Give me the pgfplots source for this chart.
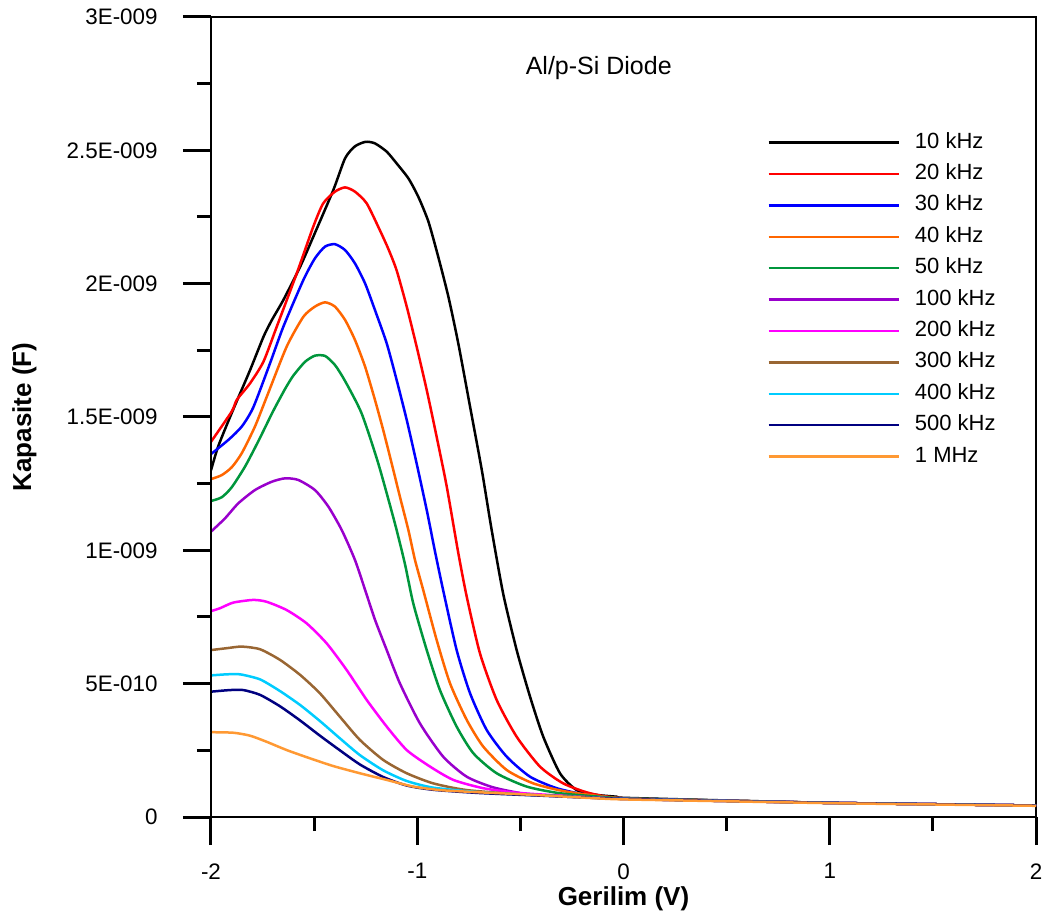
\documentclass[border=0pt]{standalone}
\usepackage{pgfplots}
\pgfplotsset{compat=1.18}
\usepackage{fontspec}
\setmainfont{Liberation Sans}
\definecolor{cBlack}{RGB}{0,0,0}
\definecolor{cRed}{RGB}{255,0,0}
\definecolor{cBlue}{RGB}{0,0,255}
\definecolor{cOrange}{RGB}{255,102,0}
\definecolor{cGreen}{RGB}{0,150,60}
\definecolor{cPurple}{RGB}{153,0,204}
\definecolor{cMagenta}{RGB}{255,0,255}
\definecolor{cBrown}{RGB}{153,102,51}
\definecolor{cCyan}{RGB}{0,204,255}
\definecolor{cNavy}{RGB}{0,0,128}
\definecolor{cLight}{RGB}{255,153,51}
\begin{document}
\begin{tikzpicture}
\path[use as bounding box] (-105.5pt,-49pt) rectangle (416pt,408.5pt);
\begin{axis}[
  at={(0,0)}, anchor=south west,
  scale only axis, width=412.5pt, height=400pt,
  xmin=-2, xmax=2, ymin=0, ymax=3,
  xtick={-2,-1,0,1,2}, xticklabels={-2,-1,0,1,2},
  minor xtick={-1.5,-0.5,0.5,1.5},
  ytick={0,0.5,1,1.5,2,2.5,3},
  yticklabels={0,5E-010,1E-009,1.5E-009,2E-009,2.5E-009,3E-009},
  minor ytick={0.25,0.75,1.25,1.75,2.25,2.75},
  tick pos=left, tick align=outside,
  major tick length=14pt, minor tick length=7pt,
  every tick/.style={black, line width=1.5pt},
  axis line style={line width=1pt},
  ticklabel style={font=\fontsize{11.2}{13}\selectfont},
  yticklabel style={inner sep=0pt, xshift=-12.5pt},
  xticklabel style={inner sep=0pt, yshift=-9pt},
  xlabel={\textbf{Gerilim (V)}}, ylabel={\textbf{Kapasite (F)}},
  label style={font=\fontsize{13}{15}\selectfont},
  xlabel style={at={(axis description cs:0.5,-0.11)}, anchor=base},
  ylabel style={at={(axis description cs:-0.218,0.5)}, anchor=base},
  legend cell align=left,
  legend image code/.code={\draw[#1] (0pt,0pt) -- (65pt,0pt);},
  legend style={draw=none, fill=none, at={(axis cs:0.696,2.57)}, anchor=north west,
    inner sep=0pt, row sep=5.2pt, font=\fontsize{11}{13}\selectfont,
    nodes={inner sep=0pt, text height=8pt, text depth=2.5pt},
    /tikz/column sep=7.5pt},
  every axis plot/.append style={line width=1.25pt, smooth, tension=0.4},
]
\addplot[cBlack] coordinates {(-2.0,1.30) (-1.965,1.39) (-1.90,1.514) (-1.811,1.675) (-1.746,1.800) (-1.706,1.862) (-1.649,1.939) (-1.568,2.063) (-1.504,2.176) (-1.407,2.351) (-1.350,2.47) (-1.302,2.515) (-1.250,2.532) (-1.205,2.526) (-1.148,2.495) (-1.100,2.451) (-1.043,2.395) (-0.995,2.326) (-0.946,2.233) (-0.898,2.100) (-0.849,1.951) (-0.801,1.776) (-0.744,1.539) (-0.687,1.301) (-0.640,1.08) (-0.583,0.836) (-0.518,0.626) (-0.453,0.451) (-0.389,0.301) (-0.308,0.164) (-0.227,0.101) (-0.130,0.083) (-0.033,0.076) (0.0,0.072) (0.5,0.062) (1.0,0.053) (1.5,0.048) (2.0,0.043)};
\addlegendentry{10 kHz}
\addplot[cRed] coordinates {(-2.0,1.407) (-1.900,1.520) (-1.875,1.564) (-1.811,1.626) (-1.746,1.707) (-1.681,1.839) (-1.584,2.039) (-1.504,2.214) (-1.456,2.301) (-1.399,2.345) (-1.350,2.361) (-1.302,2.345) (-1.245,2.301) (-1.181,2.20) (-1.140,2.13) (-1.100,2.05) (-1.051,1.914) (-1.003,1.764) (-0.954,1.601) (-0.906,1.426) (-0.857,1.239) (-0.801,0.99) (-0.760,0.826) (-0.696,0.614) (-0.615,0.439) (-0.518,0.301) (-0.405,0.189) (-0.292,0.126) (-0.162,0.089) (0.0,0.070) (0.5,0.061) (1.0,0.053) (1.5,0.048) (2.0,0.043)};
\addlegendentry{20 kHz}
\addplot[cBlue] coordinates {(-2.0,1.361) (-1.916,1.414) (-1.851,1.464) (-1.795,1.536) (-1.714,1.701) (-1.649,1.839) (-1.552,2.014) (-1.496,2.095) (-1.447,2.139) (-1.399,2.148) (-1.350,2.126) (-1.302,2.076) (-1.253,2.001) (-1.205,1.901) (-1.148,1.776) (-1.100,1.639) (-1.051,1.489) (-1.003,1.326) (-0.954,1.151) (-0.914,0.996) (-0.874,0.849) (-0.809,0.626) (-0.744,0.464) (-0.663,0.326) (-0.566,0.226) (-0.453,0.151) (-0.324,0.108) (-0.178,0.083) (0.0,0.070) (0.5,0.061) (1.0,0.053) (1.5,0.048) (2.0,0.043)};
\addlegendentry{30 kHz}
\addplot[cOrange] coordinates {(-2.0,1.267) (-1.948,1.282) (-1.900,1.311) (-1.851,1.364) (-1.787,1.464) (-1.730,1.575) (-1.633,1.764) (-1.552,1.876) (-1.496,1.914) (-1.447,1.930) (-1.399,1.914) (-1.350,1.864) (-1.302,1.789) (-1.253,1.689) (-1.205,1.564) (-1.165,1.451) (-1.124,1.326) (-1.084,1.201) (-1.043,1.076) (-1.011,0.964) (-0.971,0.851) (-0.906,0.664) (-0.841,0.501) (-0.760,0.364) (-0.680,0.264) (-0.566,0.176) (-0.437,0.126) (-0.275,0.095) (0.0,0.070) (0.5,0.061) (1.0,0.053) (1.5,0.048) (2.0,0.043)};
\addlegendentry{40 kHz}
\addplot[cGreen] coordinates {(-2.0,1.185) (-1.948,1.199) (-1.900,1.236) (-1.835,1.314) (-1.770,1.41) (-1.700,1.52) (-1.641,1.605) (-1.601,1.655) (-1.544,1.707) (-1.496,1.730) (-1.447,1.729) (-1.399,1.695) (-1.350,1.635) (-1.270,1.514) (-1.189,1.326) (-1.108,1.10) (-1.060,0.95) (-1.019,0.80) (-0.954,0.626) (-0.890,0.476) (-0.809,0.339) (-0.728,0.239) (-0.615,0.164) (-0.469,0.114) (-0.308,0.089) (-0.114,0.076) (0.0,0.070) (0.5,0.061) (1.0,0.053) (1.5,0.048) (2.0,0.043)};
\addlegendentry{50 kHz}
\addplot[cPurple] coordinates {(-2.0,1.070) (-1.932,1.120) (-1.868,1.176) (-1.787,1.226) (-1.706,1.257) (-1.641,1.270) (-1.577,1.264) (-1.496,1.226) (-1.431,1.164) (-1.366,1.076) (-1.302,0.964) (-1.250,0.845) (-1.205,0.74) (-1.150,0.63) (-1.084,0.501) (-0.987,0.351) (-0.874,0.226) (-0.760,0.151) (-0.631,0.111) (-0.469,0.086) (-0.275,0.076) (0.0,0.068) (0.5,0.060) (1.0,0.053) (1.5,0.048) (2.0,0.043)};
\addlegendentry{100 kHz}
\addplot[cMagenta] coordinates {(-2.0,0.772) (-1.956,0.783) (-1.892,0.804) (-1.795,0.814) (-1.730,0.807) (-1.633,0.776) (-1.536,0.726) (-1.439,0.651) (-1.342,0.551) (-1.245,0.439) (-1.148,0.339) (-1.051,0.251) (-0.938,0.189) (-0.825,0.139) (-0.680,0.108) (-0.518,0.091) (-0.30,0.080) (0.0,0.068) (0.5,0.060) (1.0,0.053) (1.5,0.048) (2.0,0.043)};
\addlegendentry{200 kHz}
\addplot[cBrown] coordinates {(-2.0,0.626) (-1.924,0.633) (-1.851,0.639) (-1.762,0.629) (-1.665,0.589) (-1.568,0.533) (-1.472,0.464) (-1.375,0.376) (-1.278,0.289) (-1.165,0.214) (-1.051,0.164) (-0.922,0.126) (-0.760,0.101) (-0.50,0.085) (-0.25,0.077) (0.0,0.068) (0.5,0.060) (1.0,0.053) (1.5,0.048) (2.0,0.043)};
\addlegendentry{300 kHz}
\addplot[cCyan] coordinates {(-2.0,0.531) (-1.924,0.535) (-1.859,0.535) (-1.762,0.516) (-1.665,0.472) (-1.568,0.420) (-1.472,0.360) (-1.375,0.295) (-1.278,0.232) (-1.165,0.175) (-1.051,0.135) (-0.922,0.110) (-0.70,0.093) (-0.40,0.081) (0.0,0.068) (0.5,0.060) (1.0,0.053) (1.5,0.048) (2.0,0.043)};
\addlegendentry{400 kHz}
\addplot[cNavy] coordinates {(-2.0,0.470) (-1.908,0.476) (-1.843,0.476) (-1.762,0.458) (-1.665,0.415) (-1.568,0.362) (-1.472,0.305) (-1.375,0.250) (-1.278,0.197) (-1.165,0.150) (-1.051,0.118) (-0.922,0.102) (-0.70,0.090) (-0.40,0.080) (0.0,0.068) (0.5,0.060) (1.0,0.053) (1.5,0.048) (2.0,0.043)};
\addlegendentry{500 kHz}
\addplot[cLight] coordinates {(-2.0,0.318) (-1.892,0.316) (-1.811,0.305) (-1.730,0.282) (-1.633,0.251) (-1.520,0.220) (-1.407,0.191) (-1.278,0.164) (-1.148,0.139) (-1.019,0.114) (-0.890,0.101) (-0.760,0.095) (-0.599,0.089) (-0.437,0.083) (-0.275,0.076) (-0.130,0.070) (0.0,0.066) (0.5,0.059) (1.0,0.052) (1.5,0.047) (2.0,0.042)};
\addlegendentry{1 MHz}
\node[font=\fontsize{12.5}{15}\selectfont] at (axis cs:-0.12,2.81) {Al/p-Si Diode};
\draw[line width=1.5pt] (rel axis cs:0,1) -- (rel axis cs:0,0) -- (rel axis cs:1,0);
\end{axis}
\end{tikzpicture}
\end{document}
